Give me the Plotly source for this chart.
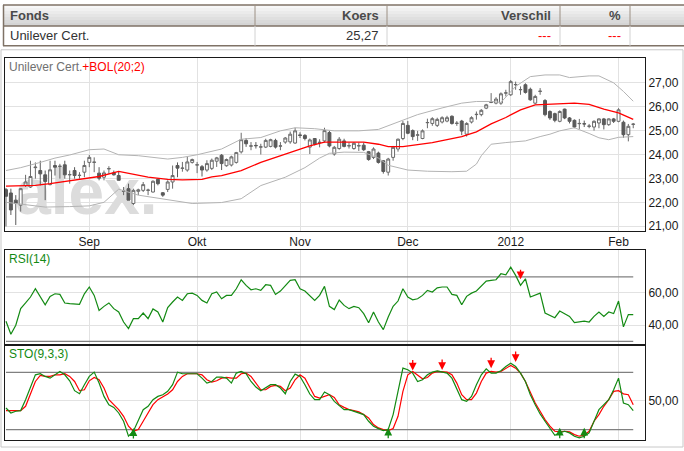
import pandas as pd
import plotly.graph_objects as go

W, H = 684, 451

# trading days on the chart (Euronext closed on 26 december)
dates = [d for d in pd.bdate_range("2011-08-09", "2012-02-06")
         if d != pd.Timestamp("2011-12-26")]
month_labels = ["Sep", "Okt", "Nov", "Dec", "2012", "Feb"]

opens = [22.53, 22.39, 22.09, 21.88, 22.71, 22.64, 23.45, 23.33, 23.15, 22.74,
         23.54, 23.50, 23.57, 23.15, 23.33, 23.12, 23.26, 23.67, 23.67, 23.22,
         23.05, 23.40, 23.23, 23.12, 22.46, 22.57, 21.95, 22.46, 22.50, 22.50,
         22.43, 22.96, 22.40, 22.54, 22.85, 23.54, 23.42, 23.35, 23.67, 23.56,
         23.49, 23.35, 23.42, 23.72, 23.97, 23.53, 23.56, 23.67, 24.11, 24.59,
         24.35, 24.38, 24.31, 24.31, 24.34, 24.59, 24.35, 24.52, 24.53, 24.48,
         24.82, 24.80, 24.31, 24.67, 24.50, 24.57, 24.92, 24.02, 24.25, 24.57,
         24.36, 24.25, 24.36, 24.39, 24.12, 23.88, 24.06, 23.74, 23.26, 23.88,
         24.23, 24.67, 25.22, 25.00, 24.81, 24.67, 25.33, 25.30, 25.22, 25.36,
         25.40, 25.60, 25.30, 25.40, 24.85, 25.36, 25.67, 25.67, 25.94, 26.18,
         26.15, 26.15, 26.57, 26.50, 26.92, 26.71, 26.92, 26.73, 26.15, 26.64,
         26.26, 25.80, 25.71, 25.39, 25.90, 25.53, 25.43, 25.29, 25.29, 25.18,
         25.15, 25.32, 25.49, 25.25, 25.49, 25.39, 25.35, 24.83, 25.26]
highs = [22.60, 22.57, 22.30, 22.60, 23.15, 23.74, 23.67, 23.74, 23.33, 23.74,
         23.74, 23.61, 23.74, 23.33, 23.47, 23.26, 23.74, 23.98, 23.88, 23.47,
         23.33, 23.51, 23.33, 23.29, 22.64, 22.78, 22.57, 22.57, 22.85, 22.57,
         22.92, 22.99, 22.43, 22.92, 23.54, 23.67, 23.69, 23.90, 23.83, 23.69,
         23.56, 23.76, 23.83, 23.90, 24.02, 23.83, 23.95, 24.11, 24.91, 24.69,
         24.52, 24.52, 24.45, 24.66, 24.66, 24.66, 24.52, 24.73, 24.96, 25.12,
         24.93, 24.85, 24.67, 24.69, 24.64, 25.12, 24.99, 24.36, 24.73, 24.66,
         24.50, 24.52, 24.50, 24.50, 24.15, 24.30, 24.12, 23.76, 23.86, 24.36,
         24.67, 25.40, 25.40, 25.05, 24.99, 25.05, 25.50, 25.56, 25.54, 25.60,
         25.62, 25.64, 25.40, 25.45, 25.35, 25.60, 25.80, 25.90, 26.12, 26.57,
         26.40, 26.60, 26.71, 27.12, 27.05, 26.85, 26.98, 26.80, 26.50, 26.78,
         26.32, 25.85, 25.75, 25.85, 25.92, 25.57, 25.47, 25.49, 25.42, 25.28,
         25.43, 25.51, 25.53, 25.51, 25.53, 25.94, 25.42, 25.28, 25.32]
lows = [20.99, 21.47, 21.05, 21.61, 22.64, 22.60, 22.99, 22.71, 22.09, 22.71,
        23.12, 22.99, 22.99, 22.78, 22.99, 22.99, 23.05, 23.47, 23.26, 22.92,
        22.92, 23.19, 23.12, 22.92, 22.30, 22.09, 21.88, 22.30, 22.43, 22.30,
        22.41, 22.71, 22.23, 22.43, 22.57, 23.05, 23.28, 23.28, 23.62, 23.22,
        23.08, 23.28, 23.35, 23.48, 23.35, 23.49, 23.50, 23.62, 24.04, 24.32,
        24.18, 24.25, 24.00, 24.27, 24.30, 24.25, 24.18, 24.45, 24.45, 24.45,
        24.69, 24.59, 24.02, 24.38, 24.30, 24.50, 24.30, 23.95, 24.20, 24.30,
        24.25, 24.20, 24.15, 24.15, 23.74, 23.81, 23.62, 23.20, 23.12, 23.74,
        24.12, 24.60, 24.85, 24.60, 24.57, 24.64, 25.10, 25.20, 25.15, 25.30,
        25.35, 25.25, 25.20, 24.81, 24.75, 25.30, 25.46, 25.60, 25.90, 26.15,
        26.10, 26.08, 26.43, 26.45, 26.71, 26.50, 26.55, 26.25, 26.10, 26.50,
        25.60, 25.45, 25.35, 25.35, 25.48, 25.30, 25.10, 25.07, 25.15, 25.10,
        25.00, 25.10, 25.05, 25.20, 25.32, 25.35, 24.70, 24.55, 25.10]
closes = [22.25, 21.68, 21.95, 22.57, 22.85, 23.08, 23.47, 23.19, 22.87, 23.36,
          23.47, 23.51, 23.15, 23.16, 23.12, 23.13, 23.54, 23.88, 23.68, 23.01,
          23.23, 23.41, 23.15, 22.92, 22.47, 22.09, 22.50, 22.52, 22.74, 22.51,
          22.88, 22.78, 22.30, 22.85, 23.12, 23.43, 23.43, 23.69, 23.79, 23.57,
          23.35, 23.62, 23.76, 23.86, 23.62, 23.79, 23.90, 24.08, 24.62, 24.45,
          24.36, 24.37, 24.32, 24.59, 24.62, 24.31, 24.36, 24.69, 24.85, 24.99,
          24.80, 24.67, 24.61, 24.43, 24.51, 25.00, 24.36, 24.30, 24.64, 24.34,
          24.37, 24.47, 24.37, 24.20, 23.79, 24.23, 23.67, 23.29, 23.81, 24.30,
          24.64, 25.30, 24.89, 24.75, 24.82, 24.99, 25.34, 25.50, 25.47, 25.54,
          25.54, 25.30, 25.31, 24.98, 25.30, 25.54, 25.68, 25.85, 26.08, 26.19,
          26.32, 26.54, 26.58, 27.05, 26.93, 26.72, 26.60, 26.29, 26.43, 26.65,
          25.67, 25.53, 25.43, 25.80, 25.53, 25.39, 25.15, 25.30, 25.28, 25.19,
          25.39, 25.49, 25.25, 25.49, 25.39, 25.87, 24.83, 25.18, 25.27]

# bollinger (20;2) at these day positions
bol_mid_x = [0, 6, 9, 12, 16, 19, 23, 26, 29, 33, 36, 40, 42, 44, 48, 52, 56, 60,
             62, 65, 71, 73, 76, 78, 81, 84, 87, 90, 93, 96, 99, 102, 105, 108,
             112, 116, 119, 122, 125, 128]
bol_mid = [22.68, 22.71, 22.78, 22.87, 22.99, 23.08, 23.29, 23.17, 23.05, 22.96,
           22.94, 22.96, 23.06, 23.12, 23.33, 23.67, 23.95, 24.23, 24.36, 24.52,
           24.54, 24.52, 24.43, 24.33, 24.33, 24.40, 24.50, 24.62, 24.75, 24.95,
           25.28, 25.55, 25.87, 26.08, 26.13, 26.15, 26.10, 25.90, 25.74, 25.47]
bol_up_x = [0, 3, 7, 10, 13, 17, 20, 23, 27, 33, 36, 39, 44, 48, 52, 56, 59, 63,
            67, 72, 76, 80, 84, 89, 93, 96, 99, 101, 104, 107, 110, 113, 115,
            119, 121, 124, 126, 128]
bol_up = [23.33, 23.45, 23.67, 23.85, 23.98, 24.20, 24.23, 23.99, 23.95, 23.81,
          23.88, 23.99, 24.23, 24.64, 24.71, 24.99, 25.12, 25.08, 24.99, 24.99,
          25.05, 25.36, 25.67, 25.95, 26.15, 26.22, 26.22, 26.18, 26.85, 27.26,
          27.33, 27.33, 27.22, 27.29, 27.29, 27.00, 26.64, 26.23]
bol_low_x = [0, 4, 8, 13, 17, 20, 23, 27, 33, 38, 44, 48, 52, 57, 61, 64, 66, 69,
             73, 76, 78, 82, 86, 91, 94, 96, 97, 99, 102, 106, 109, 111, 113,
             116, 119, 121, 123, 125, 128]
bol_low = [22.00, 21.90, 21.80, 21.82, 21.85, 22.00, 22.55, 22.30, 22.10, 21.95,
           21.99, 22.15, 22.70, 23.05, 23.45, 23.85, 24.05, 24.10, 24.09, 23.85,
           23.55, 23.35, 23.30, 23.28, 23.30, 23.60, 23.95, 24.43, 24.50, 24.57,
           24.75, 24.85, 24.99, 25.12, 24.88, 24.70, 24.62, 24.72, 24.75]

rsi = [42.5, 34.4, 40.0, 50.3, 53.8, 57.5, 62.6, 57.5, 52.7, 57.9,
       59.5, 59.1, 53.8, 53.4, 53.2, 53.0, 59.5, 63.7, 58.5, 49.2,
       51.7, 53.8, 50.3, 48.2, 42.0, 37.9, 44.1, 44.1, 47.6, 44.1,
       50.1, 48.2, 42.0, 50.9, 54.4, 57.5, 55.4, 59.5, 59.9, 58.5,
       55.4, 53.8, 59.5, 60.6, 56.4, 58.5, 58.5, 62.6, 68.2, 64.7,
       62.0, 62.6, 61.6, 65.1, 64.7, 59.1, 61.2, 64.7, 67.8, 68.2,
       62.6, 61.2, 58.5, 55.4, 58.5, 64.1, 51.7, 49.7, 55.6, 52.3,
       50.3, 51.7, 50.9, 47.2, 41.6, 48.2, 42.0, 37.3, 45.1, 51.7,
       55.0, 62.6, 57.5, 55.8, 56.4, 58.5, 61.6, 60.6, 63.2, 63.7,
       63.7, 59.1, 58.5, 52.7, 57.9, 59.9, 61.2, 64.1, 67.4, 67.8,
       68.2, 71.9, 71.3, 76.0, 70.9, 64.7, 68.8, 57.5, 58.5, 59.9,
       47.6, 46.2, 44.7, 48.8, 47.2, 45.5, 41.6, 42.0, 42.5, 42.0,
       45.5, 48.2, 45.5, 48.2, 47.2, 55.0, 39.0, 46.6, 46.6]

sto_k = [42.6, 37.4, 39.2, 39.9, 51.4, 65.3, 77.5, 78.6, 75.8, 74.0,
         77.5, 81.0, 77.5, 71.2, 60.8, 57.6, 67.1, 75.8, 80.3, 68.8,
         54.8, 46.1, 43.3, 37.4, 28.7, 13.0, 18.2, 28.7, 40.9, 44.4,
         51.4, 54.8, 56.6, 60.1, 67.1, 80.3, 78.6, 78.6, 78.6, 78.6,
         74.0, 68.8, 70.5, 75.1, 75.1, 74.0, 68.8, 79.3, 81.0, 78.6,
         70.5, 64.6, 60.8, 63.6, 67.1, 67.1, 63.6, 57.6, 70.5, 78.2,
         75.8, 67.1, 57.3, 51.4, 51.4, 59.4, 56.6, 49.6, 45.0, 40.9,
         40.9, 39.2, 37.4, 35.7, 28.7, 23.5, 21.0, 18.9, 20.0, 35.7,
         60.1, 84.5, 82.8, 79.3, 70.5, 72.3, 77.5, 80.3, 81.7, 80.3,
         79.3, 74.0, 61.8, 51.4, 49.6, 54.8, 67.1, 77.5, 83.8, 79.3,
         79.3, 81.7, 86.2, 89.7, 86.2, 79.3, 70.5, 56.6, 46.1, 36.4,
         28.7, 21.0, 14.0, 16.5, 18.2, 16.5, 13.0, 11.2, 13.0, 16.5,
         28.7, 40.9, 46.1, 51.4, 61.8, 74.0, 47.9, 46.1, 39.9]
sto_d = [39.9, 39.9, 39.9, 39.9, 44.4, 58.3, 70.5, 76.8, 75.8, 75.8,
         77.5, 77.5, 78.6, 75.8, 70.5, 60.8, 61.8, 71.2, 74.7, 72.3,
         63.6, 51.4, 46.1, 40.9, 33.9, 23.5, 18.2, 20.0, 28.7, 37.4,
         46.1, 51.4, 54.8, 57.3, 61.8, 70.5, 75.8, 78.6, 78.6, 78.6,
         77.5, 72.3, 69.8, 71.2, 74.0, 74.7, 74.0, 74.0, 78.6, 79.3,
         75.8, 68.8, 61.8, 61.8, 65.3, 66.4, 65.3, 60.8, 63.6, 72.3,
         77.5, 74.0, 63.6, 54.8, 53.1, 54.8, 56.6, 53.8, 46.0, 43.3,
         40.9, 39.9, 38.5, 35.7, 32.2, 25.2, 21.7, 20.0, 18.9, 21.0,
         33.9, 60.1, 77.5, 81.0, 77.5, 73.3, 74.7, 79.3, 81.0, 81.0,
         80.3, 77.5, 68.8, 56.6, 51.4, 51.4, 58.3, 70.5, 79.3, 81.0,
         80.3, 81.0, 84.5, 87.3, 84.5, 79.3, 70.5, 58.3, 47.9, 39.2,
         30.4, 23.5, 18.2, 17.5, 18.2, 17.5, 14.7, 13.0, 14.0, 18.2,
         28.7, 35.7, 44.4, 51.4, 60.1, 60.8, 57.5, 56.6, 46.1]

rsi_levels = [30, 70]
sto_levels = [20, 80]
price_ticks = [21, 22, 23, 24, 25, 26, 27]
rsi_ticks = [40, 60]
sto_ticks = [50]

# signal arrows
rsi_sell_x = [105]
rsi_sell_y = [68.5]
sto_sell_x = [83, 89, 99, 104]
sto_sell_y = [82.0, 82.5, 84.5, 91.0]
sto_buy_x = [26, 78, 113, 118]
sto_buy_y = [21.5, 22.0, 22.0, 22.0]

table_header = ["Fonds", "Koers", "Verschil", "%"]
table_row = ["Unilever Cert.", "25,27", "---", "---"]

FONT = "Liberation Sans, Arial, sans-serif"
NARROW = "Liberation Sans Narrow, Arial Narrow, Liberation Sans, sans-serif"
GREEN = "#138a13"

idx = list(range(len(dates)))
month_ticks = [i for i in idx[1:] if dates[i].month != dates[i - 1].month]


def px(x):
    return x / W


def py(y):
    return 1 - y / H


fig = go.Figure()

# watermark on the base axes so it stays under the candles
fig.add_trace(go.Scatter(x=[16.4], y=[22.2], mode="text", text=["<b>alex.</b>"],
                         textfont=dict(size=64, color="#dcdcdc", family=FONT),
                         xaxis="x", yaxis="y"))

fig.add_trace(go.Scatter(x=bol_up_x, y=bol_up, mode="lines",
                         line=dict(color="#b3b3b3", width=1), xaxis="x", yaxis="y4"))
fig.add_trace(go.Scatter(x=bol_low_x, y=bol_low, mode="lines",
                         line=dict(color="#b3b3b3", width=1), xaxis="x", yaxis="y4"))
fig.add_trace(go.Candlestick(
    x=idx, open=opens, high=highs, low=lows, close=closes,
    increasing=dict(line=dict(color="#6a6a6a", width=1), fillcolor="#ffffff"),
    decreasing=dict(line=dict(color="#5a5a5a", width=1), fillcolor="#5a5a5a"),
    whiskerwidth=0, xaxis="x", yaxis="y4"))
fig.add_trace(go.Scatter(x=bol_mid_x, y=bol_mid, mode="lines",
                         line=dict(color="#ff0000", width=1.3), xaxis="x", yaxis="y4"))

# RSI panel
for lv in rsi_levels:
    fig.add_trace(go.Scatter(x=[idx[0], idx[-1]], y=[lv, lv], mode="lines",
                             line=dict(color="#808080", width=1.3), xaxis="x2", yaxis="y2"))
fig.add_trace(go.Scatter(x=idx, y=rsi, mode="lines", line=dict(color=GREEN, width=1.2),
                         xaxis="x2", yaxis="y2"))

# STO panel
for lv in sto_levels:
    fig.add_trace(go.Scatter(x=[idx[0], idx[-1]], y=[lv, lv], mode="lines",
                             line=dict(color="#808080", width=1.3), xaxis="x3", yaxis="y3"))
fig.add_trace(go.Scatter(x=idx, y=sto_d, mode="lines", line=dict(color="#ff0000", width=1.2),
                         xaxis="x3", yaxis="y3"))
fig.add_trace(go.Scatter(x=idx, y=sto_k, mode="lines", line=dict(color=GREEN, width=1.2),
                         xaxis="x3", yaxis="y3"))

annotations = []


def arrow(x, y, xref, yref, color, ay):
    return dict(x=x, y=y, xref=xref, yref=yref, text="", showarrow=True,
                ax=0, ay=ay, arrowhead=2, arrowsize=1.2, arrowwidth=1.3,
                arrowcolor=color, standoff=0)


for x, y in zip(rsi_sell_x, rsi_sell_y):
    annotations.append(arrow(x, y, "x2", "y2", "#ff0000", -11))
for x, y in zip(sto_sell_x, sto_sell_y):
    annotations.append(arrow(x, y, "x3", "y3", "#ff0000", -12))
for x, y in zip(sto_buy_x, sto_buy_y):
    annotations.append(arrow(x, y, "x3", "y3", GREEN, 12))

annotations.append(dict(
    x=px(7), y=py(67), xref="paper", yref="paper", xanchor="left", yanchor="middle",
    showarrow=False, font=dict(size=12, family=FONT),
    text="<span style='color:#707070'>Unilever Cert.</span>"
         "<span style='color:#ff0000'>+BOL(20;2)</span>"))
annotations.append(dict(x=px(7), y=py(260), xref="paper", yref="paper", xanchor="left",
                        yanchor="middle", showarrow=False, text="RSI(14)",
                        font=dict(size=12, family=FONT, color=GREEN)))
annotations.append(dict(x=px(7), y=py(356), xref="paper", yref="paper", xanchor="left",
                        yanchor="middle", showarrow=False, text="STO(9,3,3)",
                        font=dict(size=12, family=FONT, color=GREEN)))

# quote table on top
col_x = [8, 381, 553, 623]
col_anchor = ["left", "right", "right", "right"]
for j, (hdr, val) in enumerate(zip(table_header, table_row)):
    annotations.append(dict(x=px(col_x[j]), y=py(15.5), xref="paper", yref="paper",
                            xanchor=col_anchor[j], yanchor="middle", showarrow=False,
                            text="<b>" + hdr + "</b>",
                            font=dict(size=13, family=NARROW, color="#4a4a4a")))
    annotations.append(dict(x=px(col_x[j]), y=py(36), xref="paper", yref="paper",
                            xanchor=col_anchor[j], yanchor="middle", showarrow=False,
                            text=val,
                            font=dict(size=13, family=NARROW,
                                      color="#ff0000" if val == "---" else "#333333")))

shapes = []
grad = ["#f7f7f7", "#f1f1f1", "#ebebeb", "#e5e5e5", "#dfdfdf", "#d9d9d9", "#d4d4d4"]
for k, c in enumerate(grad):
    shapes.append(dict(type="rect", xref="paper", yref="paper", layer="below",
                       x0=px(3), x1=1, y0=py(5 + 3 * (k + 1)), y1=py(5 + 3 * k),
                       fillcolor=c, line=dict(width=0)))
for yy in [5, 26, 46]:
    shapes.append(dict(type="line", xref="paper", yref="paper", x0=px(3), x1=1,
                       y0=py(yy), y1=py(yy), line=dict(color="#7f7266", width=1.5)))
shapes.append(dict(type="line", xref="paper", yref="paper", x0=px(3.5), x1=px(3.5),
                   y0=py(5), y1=py(46), line=dict(color="#7f7266", width=1.5)))
for xx in [255, 387, 560, 630]:
    shapes.append(dict(type="line", xref="paper", yref="paper", x0=px(xx), x1=px(xx),
                       y0=py(5), y1=py(26), line=dict(color="#9c9084", width=1)))
    shapes.append(dict(type="line", xref="paper", yref="paper", x0=px(xx), x1=px(xx),
                       y0=py(26), y1=py(46), line=dict(color="#d2d2d2", width=1)))
# chart frame
shapes.append(dict(type="rect", xref="paper", yref="paper", x0=px(1), x1=px(683),
                   y0=py(449), y1=py(50), line=dict(color="#c8c8c8", width=1)))

xdom = [px(5), px(645)]
xrange_ = [-0.2, 130.4]
xbase = dict(domain=xdom, range=xrange_, tickvals=month_ticks, showgrid=True,
             gridcolor="#e2e2e2", gridwidth=1, zeroline=False, showline=True,
             mirror=True, linecolor="#1a1a1a", linewidth=1, ticks="", fixedrange=True)
ybase = dict(side="right", showgrid=True, gridcolor="#e2e2e2", gridwidth=1,
             zeroline=False, showline=True, mirror=True, linecolor="#1a1a1a",
             linewidth=1, ticks="", tickformat=".2f", fixedrange=True,
             tickfont=dict(size=12, family=FONT, color="#1a1a1a"))

fig.update_layout(
    width=W, height=H, margin=dict(l=0, r=0, t=0, b=0),
    paper_bgcolor="white", plot_bgcolor="white",
    showlegend=False, hovermode=False, separators=",.", boxgap=0.15,
    font=dict(family=FONT, size=12, color="#1a1a1a"),
    xaxis=dict(xbase, anchor="y", ticktext=month_labels,
               tickfont=dict(size=12, family=FONT, color="#1a1a1a"),
               rangeslider=dict(visible=False)),
    yaxis=dict(ybase, anchor="x", domain=[py(232), py(58)], range=[20.80, 28.05],
               tickvals=price_ticks),
    yaxis4=dict(overlaying="y", anchor="x", range=[20.80, 28.05], visible=False,
                fixedrange=True),
    xaxis2=dict(xbase, anchor="y2", showticklabels=False),
    yaxis2=dict(ybase, anchor="x2", domain=[py(345.5), py(251)], range=[28.4, 86.7],
                tickvals=rsi_ticks),
    xaxis3=dict(xbase, anchor="y3", showticklabels=False),
    yaxis3=dict(ybase, anchor="x3", domain=[py(441.5), py(347.3)], range=[9.5, 108],
                tickvals=sto_ticks),
    annotations=annotations,
    shapes=shapes,
)

# the page body has a default margin; drop it so the figure sits at the window corner
fig.write_html("out.html", config=dict(displayModeBar=False),
               post_script="document.body.style.margin = '0';")
